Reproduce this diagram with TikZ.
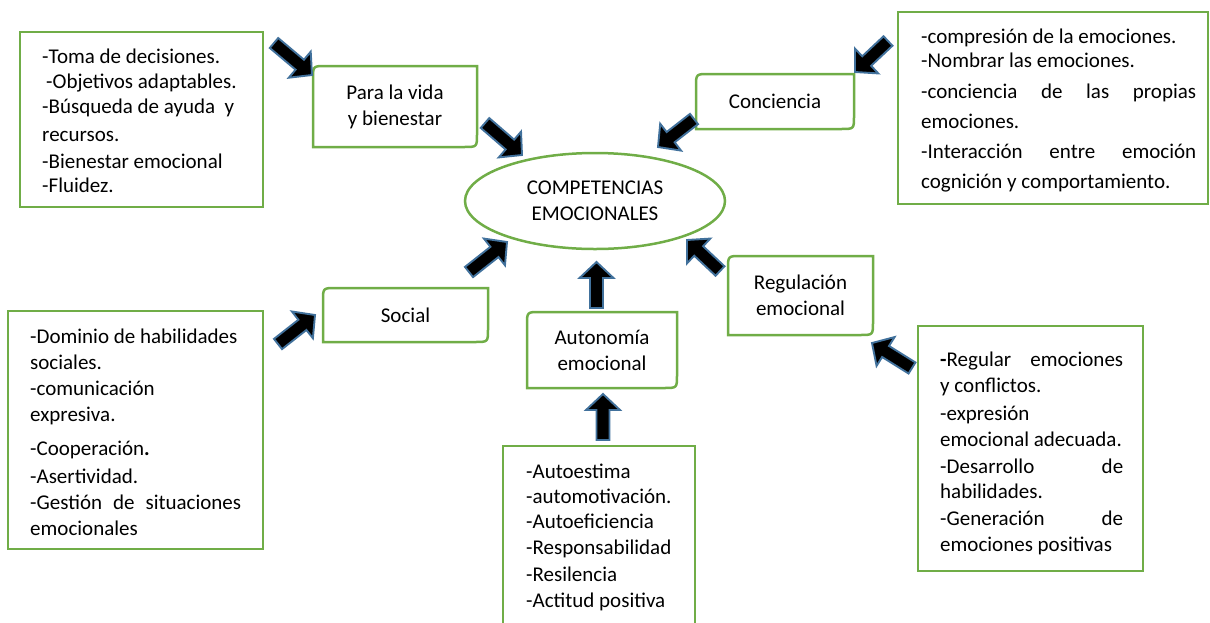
\documentclass[tikz,border=0pt]{standalone}
\usepackage{fontspec}
\setmainfont{Carlito}
\usetikzlibrary{calc,shapes.geometric}
\definecolor{gr}{HTML}{70AD47}
\definecolor{ab}{HTML}{41719C}
\newcommand{\blockarr}[2]{%
  \coordinate (hb) at ($(#2)!16pt!(#1)$);
  \filldraw[barrow] ($(#1)!6.5pt!90:(#2)$) -- ($(hb)!6.5pt!90:(#2)$) -- ($(hb)!17pt!90:(#2)$) -- (#2)
     -- ($(hb)!17pt!-90:(#2)$) -- ($(hb)!6.5pt!-90:(#2)$) -- ($(#1)!6.5pt!-90:(#2)$) -- cycle;}
\newcommand{\diagbox}[1]{%
  \draw[gbox] ([yshift=-13pt]#1.north west) .. controls (#1.north west) .. ([xshift=13pt]#1.north west)
     -- (#1.north east) -- ([yshift=13pt]#1.south east) .. controls (#1.south east) .. ([xshift=-13pt]#1.south east)
     -- (#1.south west) -- cycle;}
\begin{document}
\begin{tikzpicture}[x=1pt,y=-1pt,
  gbox/.style={draw=gr, line width=2.5pt},
  listbox/.style={gbox, rectangle, inner sep=0pt, outer sep=0pt, fill=white},
  lblbox/.style={rectangle, inner sep=0pt, outer sep=0pt, align=center, font=\fontsize{21}{26}\selectfont},
  txt/.style={font=\fontsize{21}{26}\selectfont, anchor=base west, inner sep=0pt},
  barrow/.style={fill=black, draw=ab, line width=1.9pt, line join=miter}]
\useasboundingbox (0,0) rectangle (1210,622);
\clip (0,0) rectangle (1210,622);

% list boxes
\node[listbox, minimum width=243pt, minimum height=175pt] (tl) at (141.5,119.5) {};
\node[listbox, minimum width=310pt, minimum height=192pt] (tr) at (1053,108) {};
\node[listbox, minimum width=255pt, minimum height=238pt] (bl) at (135.5,430) {};
\node[listbox, minimum width=225pt, minimum height=245pt] (br) at (1030.5,448.5) {};
\node[listbox, minimum width=192pt, minimum height=200pt] (bm) at (599,546) {};

% central ellipse
\node[ellipse, draw=gr, line width=2.5pt, minimum width=260pt, minimum height=96pt, inner sep=0pt,
      align=center, font=\fontsize{21}{26}\selectfont] (ce) at (595,201) {COMPETENCIAS\\EMOCIONALES};

% label boxes
\node[lblbox, minimum width=164pt, minimum height=81pt] (para) at (395,106.5) {Para la vida\\y bienestar};
\node[lblbox, minimum width=158pt, minimum height=55pt] (conc) at (775,101.5) {Conciencia};
\node[lblbox, minimum width=165pt, minimum height=54pt] (soc) at (405.5,315) {Social};
\node[lblbox, minimum width=145pt, minimum height=79pt] (reg) at (800.5,295.5) {Regulación\\emocional};
\node[lblbox, minimum width=150pt, minimum height=76pt] (aut) at (602,350) {Autonomía\\emocional};
\diagbox{para}
\diagbox{conc}
\diagbox{soc}
\diagbox{reg}
\diagbox{aut}

% block arrows
\coordinate (a1t) at (274,43);   \coordinate (a1h) at (312,75);
\coordinate (a2t) at (485,123);  \coordinate (a2h) at (522,155);
\coordinate (a3t) at (888,41);   \coordinate (a3h) at (855,72);
\coordinate (a4t) at (694,119);  \coordinate (a4h) at (658,147);
\coordinate (a5t) at (469,272);  \coordinate (a5h) at (507,242);
\coordinate (a6t) at (278,344);  \coordinate (a6h) at (315,315);
\coordinate (a7t) at (596.5,308);\coordinate (a7h) at (596.5,262);
\coordinate (a8t) at (603,440);  \coordinate (a8h) at (603,394);
\coordinate (a9t) at (720,271);  \coordinate (a9h) at (687,240);
\coordinate (a10t) at (912,368); \coordinate (a10h) at (872,343);
\blockarr{a1t}{a1h}
\blockarr{a2t}{a2h}
\blockarr{a3t}{a3h}
\blockarr{a4t}{a4h}
\blockarr{a5t}{a5h}
\blockarr{a6t}{a6h}
\blockarr{a7t}{a7h}
\blockarr{a8t}{a8h}
\blockarr{a9t}{a9h}
\blockarr{a10t}{a10h}

% texts
\foreach \x/\y/\t [count=\i] in {42/63/{-Toma de decisiones.}, 46/88/{-Objetivos adaptables.},
   42/113/{-Búsqueda de ayuda\ \ y}, 42/141/{recursos.}, 42/168/{-Bienestar emocional}, 42/192/{-Fluidez.}}
  \node[txt] (tl-\i) at (\x,\y) {\t};

\foreach \y/\t [count=\i] in {43/{-compresión de la emociones.}, 67/{-Nombrar las emociones.},
   98/{\makebox[275pt][l]{-conciencia\hfill de\hfill las\hfill propias}}, 128/{emociones.},
   158/{\makebox[275pt][l]{-Interacción\hfill entre\hfill emoción}}, 188/{cognición y comportamiento.}}
  \node[txt] (tr-\i) at (921,\y) {\t};

\foreach \y/\t [count=\i] in {343/{-Dominio de habilidades}, 369/{sociales.}, 395/{-comunicación},
   421/{expresiva.}, 455/{-Cooperación{\bfseries .}}, 483/{-Asertividad.},
   509/{\makebox[211pt][l]{-Gestión\hfill de\hfill situaciones}}, 535/{emocionales}}
  \node[txt] (bl-\i) at (30,\y) {\t};

\foreach \y/\t [count=\i] in {478/{-Autoestima}, 503/{-automotivación.}, 528/{-Autoeficiencia},
   554/{-Responsabilidad}, 581/{-Resilencia}, 607/{-Actitud positiva}}
  \node[txt] (bm-\i) at (526,\y) {\t};

\foreach \y/\t [count=\i] in {366/{\makebox[183pt][l]{{\bfseries -}Regular\hfill emociones}}, 392/{y conflictos.},
   420/{-expresión}, 446/{emocional adecuada.}, 473/{\makebox[183pt][l]{-Desarrollo\hfill de}},
   498/{habilidades.}, 525/{\makebox[183pt][l]{-Generación\hfill de}}, 551/{emociones positivas}}
  \node[txt] (br-\i) at (940,\y) {\t};
\end{tikzpicture}
\end{document}
